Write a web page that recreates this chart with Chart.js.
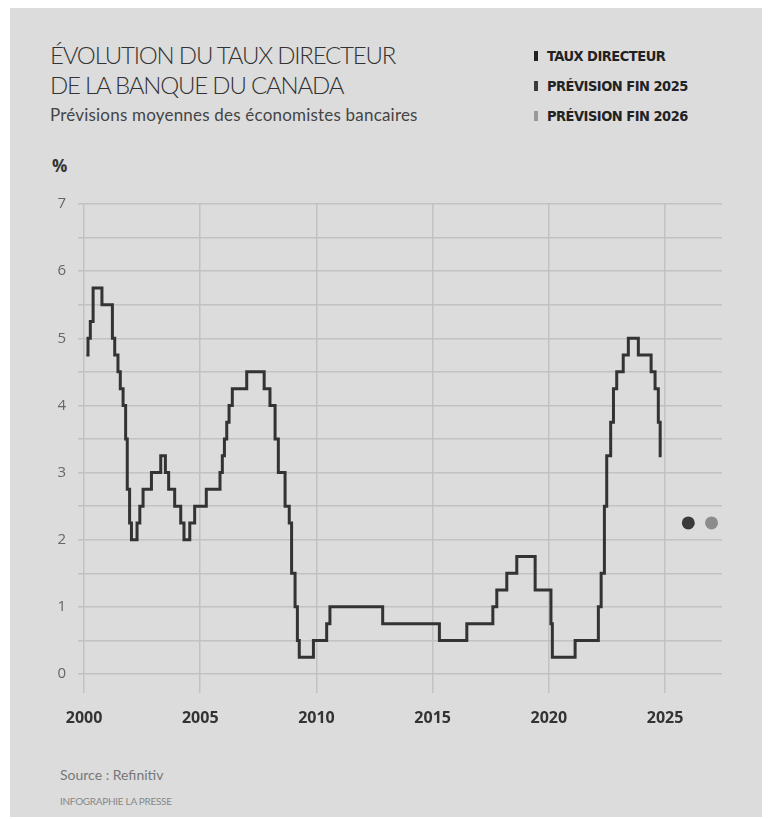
<!DOCTYPE html>
<html>
<head>
<meta charset="utf-8">
<script src="https://cdn.jsdelivr.net/npm/chart.js@4"></script>
<style>
  body { margin: 0; background: #fff; width: 772px; height: 819px; overflow: hidden; font-family: "Lato", "Open Sans", sans-serif; }
  #panel { position: absolute; left: 10px; top: 8px; width: 752px; height: 809px; background: #dcdcdc; }
  .title { position: absolute; left: 50px; color: #333; font-size: 24px; font-weight: 300; letter-spacing: -1.2px; line-height: 30px; }
  #sub { position: absolute; left: 50px; top: 104px; color: #444; font-size: 17px; letter-spacing: 0.2px; }
  .leg { position: absolute; left: 534px; font-family: "DejaVu Sans Condensed", "Liberation Sans Narrow", sans-serif; font-weight: bold; font-size: 14.5px; color: #222; letter-spacing: -0.5px; }
  .leg i { display: inline-block; width: 4px; height: 10px; margin-right: 9px; vertical-align: 0px; }
  #pct { position: absolute; left: 52px; top: 154px; font-family: "Open Sans", sans-serif; font-weight: bold; font-size: 17px; color: #333; }
  #src { position: absolute; left: 60px; top: 766px; font-size: 14px; color: #777; }
  #credit { position: absolute; left: 60px; top: 795px; font-size: 10px; color: #888; letter-spacing: -0.3px; }
  #wrap { position: absolute; left: 0; top: 140px; width: 772px; height: 600px; }
</style>
</head>
<body>
<div id="panel"></div>
<div class="title" style="top:40px">ÉVOLUTION DU TAUX DIRECTEUR</div>
<div class="title" style="top:70px">DE LA BANQUE DU CANADA</div>
<div id="sub">Prévisions moyennes des économistes bancaires</div>
<div class="leg" style="top:48px"><i style="background:#222"></i>TAUX DIRECTEUR</div>
<div class="leg" style="top:78px"><i style="background:#3c3c3c"></i>PRÉVISION FIN 2025</div>
<div class="leg" style="top:108px"><i style="background:#999"></i>PRÉVISION FIN 2026</div>
<div id="pct">%</div>
<div id="src">Source : Refinitiv</div>
<div id="credit">INFOGRAPHIE LA PRESSE</div>
<div id="wrap"><canvas id="RateCanvas" width="772" height="600"></canvas></div>
<script>
// policy rate, each point = start of a new level
const rateYears = [2000.10, 2000.17, 2000.27, 2000.39, 2000.77, 2001.22, 2001.32, 2001.46, 2001.56, 2001.68,
    2001.79, 2001.86, 2001.96, 2002.04, 2002.28, 2002.40, 2002.54, 2002.90, 2003.30, 2003.50,
    2003.64, 2003.90, 2004.16, 2004.30, 2004.55, 2004.76, 2005.26, 2005.85, 2005.95, 2006.04,
    2006.14, 2006.24, 2006.38, 2007.00, 2007.75, 2008.00, 2008.22, 2008.36, 2008.65, 2008.83,
    2008.93, 2009.08, 2009.18, 2009.26, 2009.87, 2010.44, 2010.58, 2012.85, 2015.29, 2016.47,
    2017.59, 2017.76, 2018.19, 2018.62, 2019.41, 2020.09, 2020.15, 2021.13, 2022.13, 2022.25,
    2022.39, 2022.49, 2022.66, 2022.78, 2022.92, 2023.20, 2023.42, 2023.85, 2024.40, 2024.57,
    2024.71, 2024.79, 2024.85];
const rateValues = [4.75, 5.00, 5.25, 5.75, 5.50, 5.00, 4.75, 4.50, 4.25, 4.00,
    3.50, 2.75, 2.25, 2.00, 2.25, 2.50, 2.75, 3.00, 3.25, 3.00,
    2.75, 2.50, 2.25, 2.00, 2.25, 2.50, 2.75, 3.00, 3.25, 3.50,
    3.75, 4.00, 4.25, 4.50, 4.25, 4.00, 3.50, 3.00, 2.50, 2.25,
    1.50, 1.00, 0.50, 0.25, 0.50, 0.75, 1.00, 0.75, 0.50, 0.75,
    1.00, 1.25, 1.50, 1.75, 1.25, 0.75, 0.25, 0.50, 1.00, 1.50,
    2.50, 3.25, 3.75, 4.25, 4.50, 4.75, 5.00, 4.75, 4.50, 4.25,
    3.75, 3.25, 3.25];

// forecasts
const forecastLabels = ["PRÉVISION FIN 2025", "PRÉVISION FIN 2026"];
const forecastYears = [2026, 2027];
const forecastValues = [2.25, 2.25];
const forecastColors = ['#3a3a3a', '#8c8c8c'];

const yearTicks = [2000, 2005, 2010, 2015, 2020, 2025];

const rateData = rateYears.map((x, i) => ({x: x, y: rateValues[i]}));

const data = {
    datasets: [
        {
            label: "TAUX DIRECTEUR",
            data: rateData,
            stepped: 'before',
            borderColor: '#333',
            borderWidth: 3,
            pointRadius: 0,
            fill: false
        },
        {
            label: "Prévisions",
            type: 'scatter',
            data: forecastYears.map((x, i) => ({x: x, y: forecastValues[i]})),
            backgroundColor: forecastColors,
            borderWidth: 0,
            pointRadius: 6.5
        }
    ]
};

let myChartRate = new Chart(document.getElementById("RateCanvas").getContext("2d"), {
    type: 'line',
    data: data,
    options: {
        responsive: false,
        animation: false,
        layout: { padding: { left: 0, right: 50, top: 64, bottom: 0 } },
        plugins: {
            legend: { display: false },
            title: { display: false },
            tooltip: { enabled: false }
        },
        scales: {
            x: {
                type: 'linear',
                min: 1999.74,
                max: 2027.45,
                afterBuildTicks: scale => { scale.ticks = yearTicks.map(v => ({value: v})); },
                afterFit: scale => { scale.height = 66; },
                border: { display: false },
                grid: { color: '#c2c2c2', lineWidth: 1.5, drawTicks: true, tickLength: 19, tickColor: '#c2c2c2' },
                ticks: {
                    padding: 16,
                    color: '#333',
                    font: { family: 'Open Sans', size: 16, weight: 'bold' },
                    callback: v => String(v)
                }
            },
            y: {
                min: 0,
                max: 7,
                afterFit: scale => { scale.width = 78; },
                border: { display: false },
                grid: { color: '#c2c2c2', lineWidth: 1.5, drawTicks: false },
                ticks: {
                    stepSize: 0.5,
                    padding: 12,
                    color: '#666',
                    font: { family: 'Open Sans', size: 15 },
                    callback: v => (Number.isInteger(v) ? String(v) : '')
                }
            }
        }
    }
});
</script>
</body>
</html>
